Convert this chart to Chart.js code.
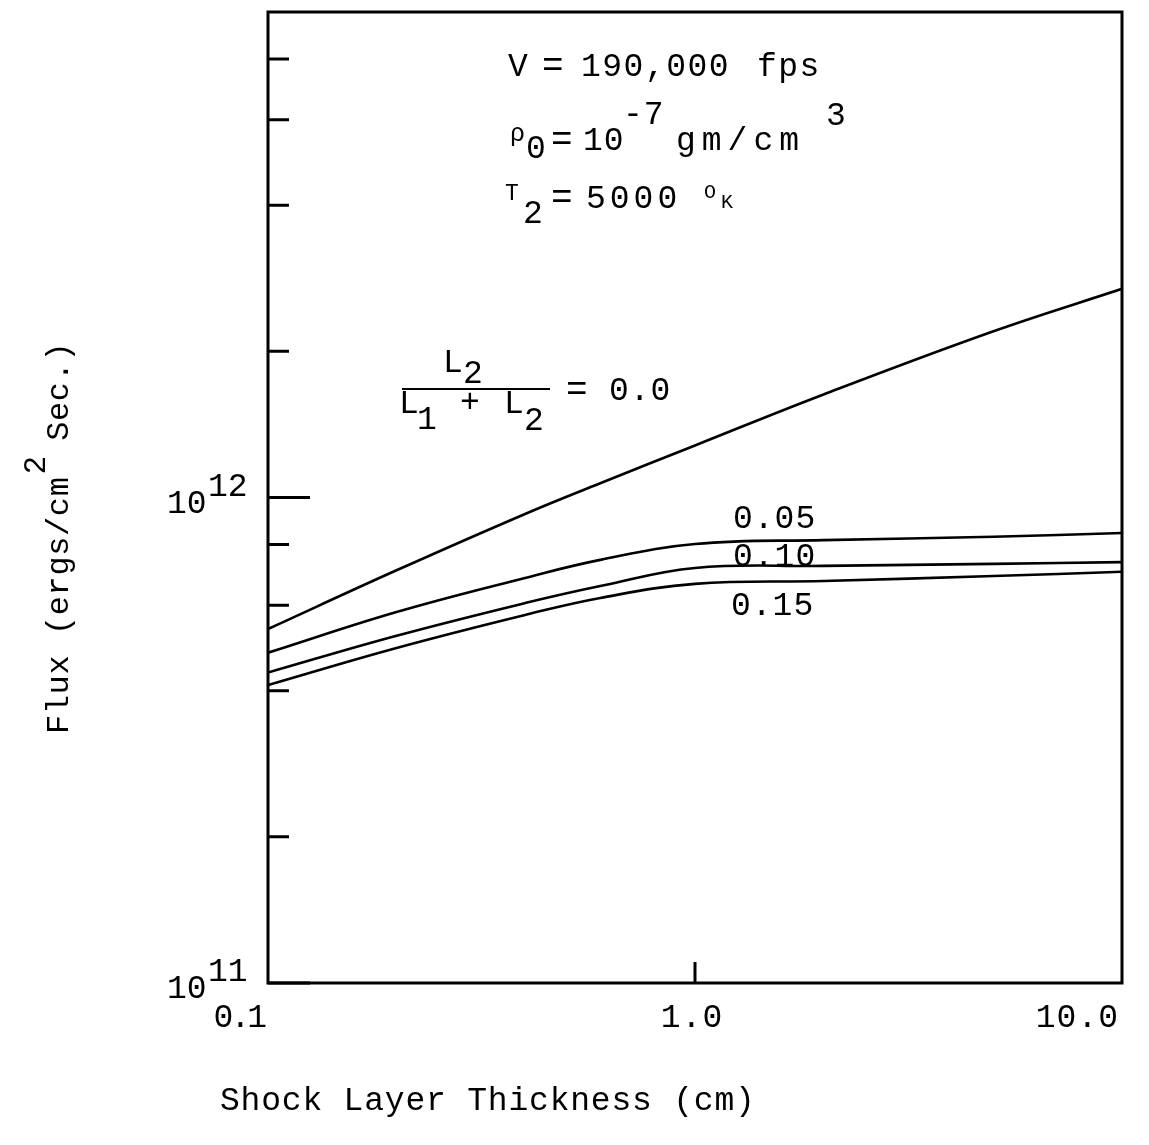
<!DOCTYPE html>
<html>
<head>
<meta charset="utf-8">
<script src="https://cdn.jsdelivr.net/npm/chart.js@4"></script>
<style>
  html, body { margin: 0; padding: 0; background: #fff; }
  #wrap { width: 1149px; height: 1145px; }
</style>
</head>
<body>
<div id="wrap"><canvas id="fluxChart"></canvas></div>
<script>
// shock layer thickness (cm)
const thickness = [0.1, 0.2, 0.4, 0.6, 1, 2, 5, 10];

// radiative flux, ergs/cm^2 sec, one curve per L2/(L1+L2)
const ratioLabels = ['0.0', '0.05', '0.10', '0.15'];
const flux00 = [5.36e11, 7.08e11, 9.25e11, 1.07e12, 1.28e12, 1.63e12, 2.20e12, 2.69e12];
const flux05 = [4.79e11, 5.81e11, 6.83e11, 7.44e11, 8.02e11, 8.17e11, 8.30e11, 8.45e11];
const flux10 = [4.36e11, 5.19e11, 6.06e11, 6.57e11, 7.16e11, 7.23e11, 7.30e11, 7.36e11];
const flux15 = [4.11e11, 4.90e11, 5.73e11, 6.21e11, 6.64e11, 6.73e11, 6.89e11, 7.03e11];

// axis ticks
const yMinorTicks = [2e11, 4e11, 6e11, 8e11, 2e12, 4e12, 6e12, 8e12];
const yMajorTicks = [1e11, 1e12];
const yMajorExp = ['11', '12'];
const xTicks = [1];
const xTickValues = [0.1, 1, 10];
const xTickLabels = ['0.1', '1.0', '10.0'];

const FONT = '"Liberation Mono", "Courier New", monospace';

function pts(ys) {
  return thickness.map((x, i) => ({ x: x, y: ys[i] }));
}

function txt(ctx, s, x, y, size, spacing) {
  ctx.font = size + 'px ' + FONT;
  ctx.letterSpacing = (spacing === undefined ? 1 : spacing) + 'px';
  ctx.fillText(s, x, y);
}

const decorations = {
  id: 'decorations',
  afterDraw(chart) {
    const ctx = chart.ctx;
    const a = chart.chartArea;
    const xs = chart.scales.x, ys = chart.scales.y;
    ctx.save();
    ctx.strokeStyle = '#000';
    ctx.fillStyle = '#000';
    ctx.lineCap = 'butt';

    // frame
    ctx.lineWidth = 3;
    ctx.strokeRect(a.left, a.top, a.right - a.left, a.bottom - a.top);

    // inward ticks
    ctx.beginPath();
    yMinorTicks.forEach(v => {
      const y = ys.getPixelForValue(v);
      ctx.moveTo(a.left, y); ctx.lineTo(a.left + 21, y);
    });
    yMajorTicks.forEach(v => {
      const y = ys.getPixelForValue(v);
      ctx.moveTo(a.left, y); ctx.lineTo(a.left + 42, y);
    });
    xTicks.forEach(v => {
      const x = xs.getPixelForValue(v);
      ctx.moveTo(x, a.bottom); ctx.lineTo(x, a.bottom - 21);
    });
    ctx.stroke();

    ctx.textBaseline = 'alphabetic';
    ctx.textAlign = 'left';

    // y decade labels
    yMajorTicks.forEach((v, i) => {
      const y = ys.getPixelForValue(v);
      txt(ctx, '10', a.left - 101, y + 15, 33, 0);
      txt(ctx, yMajorExp[i], a.left - 60, y - 2, 33, 0);
    });

    // x labels
    xTickValues.forEach((v, i) => {
      const x = xs.getPixelForValue(v);
      if (i === 0) { ctx.textAlign = 'right'; txt(ctx, xTickLabels[i], x - 4, 1027, 33, -3); }
      else if (i === xTickValues.length - 1) { ctx.textAlign = 'right'; txt(ctx, xTickLabels[i], x - 3, 1027, 33, 1); }
      else { ctx.textAlign = 'center'; txt(ctx, xTickLabels[i], x - 3, 1027, 33, 1); }
    });
    ctx.textAlign = 'left';

    // axis titles
    txt(ctx, 'Shock Layer Thickness (cm)', 220, 1110, 33, 0.8);

    ctx.save();
    ctx.translate(68, 734);
    ctx.rotate(-Math.PI / 2);
    txt(ctx, 'Flux (ergs/cm', 0, 0, 32, 0.6);
    let w = ctx.measureText('Flux (ergs/cm').width;
    txt(ctx, '2', w + 2, -23, 31, 0);
    txt(ctx, ' Sec.)', w + 16, 0, 32, 0.6);
    ctx.restore();

    // conditions
    txt(ctx, 'V', 508, 76, 33, 0);
    txt(ctx, '=', 542, 76, 36, 0);
    txt(ctx, '190,000', 581, 76, 33, 1.5);
    txt(ctx, 'fps', 757, 76, 33, 1.5);

    txt(ctx, 'ρ', 510, 141, 25, 0);
    txt(ctx, '0', 526, 158, 33, 0);
    txt(ctx, '=', 551, 150, 36, 0);
    txt(ctx, '10', 583, 150, 33, 1);
    txt(ctx, '-7', 623, 124, 33, 1);
    txt(ctx, 'gm/cm', 676, 150, 33, 6);
    txt(ctx, '3', 826, 125, 33, 0);

    txt(ctx, 'T', 505, 200, 23, 0);
    txt(ctx, '2', 523, 223, 33, 0);
    txt(ctx, '=', 551, 208, 36, 0);
    txt(ctx, '5000', 586, 208, 33, 4);
    txt(ctx, 'O', 704, 198, 20, 0);
    txt(ctx, 'K', 721, 208, 20, 0);

    // L2/(L1+L2) = 0.0
    txt(ctx, 'L', 443, 372, 33, 0);
    txt(ctx, '2', 463, 383, 33, 0);
    ctx.lineWidth = 2;
    ctx.beginPath(); ctx.moveTo(402, 389); ctx.lineTo(550, 389); ctx.stroke();
    txt(ctx, 'L', 399, 413, 33, 0);
    txt(ctx, '1', 417, 429, 33, 0);
    txt(ctx, '+', 460, 412, 33, 0);
    txt(ctx, 'L', 504, 413, 33, 0);
    txt(ctx, '2', 524, 430, 33, 0);
    txt(ctx, '=', 566, 400, 36, 0);
    txt(ctx, ratioLabels[0], 609, 400, 33, 1);

    // labels for the other curves
    txt(ctx, ratioLabels[1], 733, 528, 33, 1);
    txt(ctx, ratioLabels[2], 733, 566, 33, 1);
    txt(ctx, ratioLabels[3], 731, 615, 33, 1);

    ctx.restore();
  }
};

const lineStyle = {
  borderColor: '#000',
  borderWidth: 2.6,
  pointRadius: 0,
  fill: false,
  tension: 0.4
};

new Chart(document.getElementById('fluxChart'), {
  type: 'line',
  data: {
    datasets: [
      Object.assign({ label: ratioLabels[0], data: pts(flux00) }, lineStyle),
      Object.assign({ label: ratioLabels[1], data: pts(flux05) }, lineStyle),
      Object.assign({ label: ratioLabels[2], data: pts(flux10) }, lineStyle),
      Object.assign({ label: ratioLabels[3], data: pts(flux15) }, lineStyle)
    ]
  },
  options: {
    responsive: true,
    maintainAspectRatio: false,
    animation: false,
    layout: { padding: { left: 268, right: 27, top: 12, bottom: 162 } },
    scales: {
      x: { type: 'logarithmic', min: 0.1, max: 10, display: false },
      y: { type: 'logarithmic', min: 1e11, max: 1e13, display: false }
    },
    plugins: {
      legend: { display: false },
      tooltip: { enabled: false }
    }
  },
  plugins: [decorations]
});
</script>
</body>
</html>
